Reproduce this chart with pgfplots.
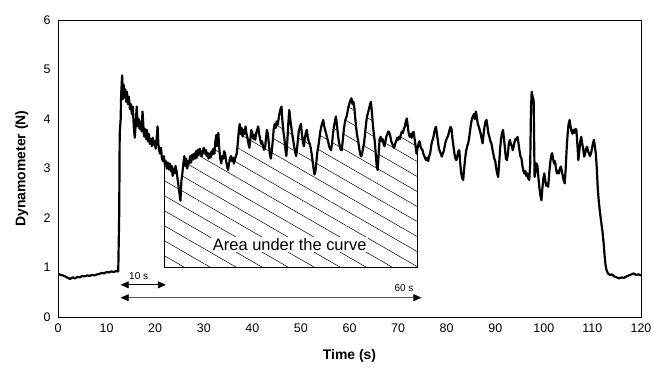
\documentclass[border=0pt]{standalone}
\usepackage{fontspec}
\setmainfont{Liberation Sans}
\usepackage{pgfplots}
\usepackage{pgfplotstable}
\pgfplotsset{compat=1.18}
\usepgfplotslibrary{fillbetween}
\usetikzlibrary{patterns.meta,arrows.meta}
\pgfplotstableread[row sep=\\]{t v\\
0 0.88\\ 0.5 0.85\\ 1 0.84\\ 1.5 0.82\\ 2 0.79\\ 2.5 0.77\\ 3 0.80\\ 3.5 0.78\\ 4 0.81\\ 4.5 0.80\\ 5 0.83\\ 5.5 0.82\\ 6 0.84\\ 6.5 0.83\\ 7 0.85\\ 7.5 0.84\\ 8 0.86\\ 8.5 0.87\\ 9 0.89\\ 9.5 0.88\\ 10 0.91\\ 10.5 0.90\\ 11 0.92\\ 11.5 0.91\\ 12 0.93\\ 12.4 0.92\\
12.5 1.5\\ 12.6 2.1\\ 12.7 3.7\\ 12.9 4.0\\ 13.0 4.5\\ 13.2 4.88\\ 13.35 4.4\\ 13.5 4.7\\ 13.7 4.45\\ 13.85 4.6\\ 14.0 4.35\\ 14.2 4.55\\ 14.4 4.3\\ 14.6 4.45\\ 14.8 4.2\\ 15.0 4.3\\ 15.2 4.1\\ 15.4 4.25\\ 15.6 3.85\\ 15.8 3.62\\ 16.0 3.9\\ 16.2 4.25\\ 16.4 3.85\\ 16.6 4.0\\ 16.8 3.8\\ 17.0 3.95\\ 17.2 3.75\\ 17.4 4.15\\ 17.55 3.9\\ 17.7 3.65\\ 17.9 3.8\\ 18.1 3.6\\ 18.3 3.78\\ 18.5 3.55\\ 18.7 3.7\\ 18.9 3.5\\ 19.1 3.6\\ 19.3 3.45\\ 19.5 3.62\\ 19.7 3.48\\ 19.9 3.55\\ 20.1 3.4\\ 20.3 3.6\\ 20.5 3.85\\ 20.65 3.5\\ 20.8 3.38\\ 21.0 3.3\\ 21.2 3.42\\ 21.4 3.2\\ 21.6 3.15\\ 21.8 3.25\\ 22.0 3.08\\ 22.2 3.15\\ 22.4 3.0\\ 22.6 3.12\\ 22.8 2.98\\ 23.0 3.1\\ 23.2 2.95\\ 23.4 3.05\\ 23.6 2.85\\ 23.8 3.0\\ 24.0 2.9\\ 24.2 3.05\\ 24.4 2.95\\ 24.6 2.8\\ 24.8 2.65\\ 25.0 2.5\\ 25.2 2.35\\ 25.4 2.75\\ 25.6 2.9\\ 25.8 3.1\\ 26.0 3.25\\ 26.2 3.05\\ 26.4 3.2\\ 26.6 3.0\\ 26.8 3.15\\ 27.0 3.1\\ 27.2 3.25\\ 27.4 3.12\\ 27.6 3.28\\ 27.8 3.18\\ 28.0 3.3\\ 28.2 3.2\\ 28.4 3.35\\ 28.6 3.22\\ 28.8 3.38\\ 29.0 3.28\\ 29.2 3.4\\ 29.4 3.3\\ 29.6 3.25\\ 29.8 3.35\\ 30.0 3.42\\ 30.2 3.3\\ 30.4 3.38\\ 30.6 3.25\\ 30.8 3.32\\ 31.0 3.2\\ 31.2 3.3\\ 31.4 3.22\\ 31.6 3.35\\ 31.8 3.28\\ 32.0 3.4\\ 32.2 3.3\\ 32.4 3.55\\ 32.6 3.68\\ 32.8 3.45\\ 33.0 3.72\\ 33.2 3.4\\ 33.4 3.2\\ 33.6 3.1\\ 33.8 3.25\\ 34.0 3.2\\ 34.2 3.35\\ 34.4 3.3\\ 34.6 3.15\\ 34.8 3.05\\ 35.0 2.97\\ 35.2 3.1\\ 35.4 3.2\\ 35.6 3.25\\ 35.8 3.15\\ 36.0 3.22\\ 36.2 3.1\\ 36.4 3.18\\ 36.6 3.25\\ 36.8 3.3\\ 37.0 3.5\\ 37.2 3.75\\ 37.4 3.9\\ 37.6 3.7\\ 37.8 3.82\\ 38.0 3.65\\ 38.2 3.78\\ 38.4 3.7\\ 38.6 3.85\\ 38.8 3.7\\ 39.0 3.62\\ 39.2 3.5\\ 39.4 3.42\\ 39.6 3.6\\ 39.8 3.78\\ 40.0 3.7\\ 40.2 3.6\\ 40.4 3.68\\ 40.6 3.58\\ 40.8 3.72\\ 41.0 3.78\\ 41.2 3.85\\ 41.4 3.7\\ 41.6 3.6\\ 41.8 3.5\\ 42.0 3.55\\ 42.2 3.45\\ 42.4 3.38\\ 42.6 3.4\\ 42.8 3.6\\ 43.0 3.78\\ 43.2 3.7\\ 43.4 3.5\\ 43.6 3.3\\ 43.8 3.2\\ 44.0 3.35\\ 44.2 3.55\\ 44.4 3.8\\ 44.6 3.9\\ 44.8 3.82\\ 45.0 3.95\\ 45.2 3.88\\ 45.4 4.0\\ 45.6 4.12\\ 45.8 4.2\\ 46.0 4.25\\ 46.2 3.95\\ 46.4 3.75\\ 46.6 3.6\\ 46.8 3.4\\ 47.0 3.25\\ 47.2 3.55\\ 47.4 3.9\\ 47.6 4.18\\ 47.8 4.0\\ 48.0 3.85\\ 48.2 3.7\\ 48.4 3.58\\ 48.6 3.45\\ 48.8 3.35\\ 49.0 3.25\\ 49.2 3.4\\ 49.4 3.6\\ 49.6 3.78\\ 49.8 3.84\\ 50.0 3.9\\ 50.2 3.7\\ 50.4 3.55\\ 50.6 3.45\\ 50.8 3.6\\ 51.0 3.72\\ 51.2 3.78\\ 51.4 3.65\\ 51.6 3.55\\ 51.8 3.5\\ 52.0 3.42\\ 52.2 3.3\\ 52.4 3.15\\ 52.6 3.0\\ 52.8 2.88\\ 53.0 2.95\\ 53.2 3.15\\ 53.4 3.35\\ 53.6 3.45\\ 53.8 3.6\\ 54.0 3.75\\ 54.2 3.85\\ 54.4 3.92\\ 54.6 3.98\\ 54.8 3.85\\ 55.0 3.78\\ 55.2 3.7\\ 55.4 3.62\\ 55.6 3.55\\ 55.8 3.45\\ 56.0 3.4\\ 56.2 3.37\\ 56.4 3.5\\ 56.6 3.7\\ 56.8 3.85\\ 57.0 3.95\\ 57.2 4.05\\ 57.4 3.9\\ 57.6 3.7\\ 57.8 3.55\\ 58.0 3.45\\ 58.2 3.38\\ 58.4 3.37\\ 58.6 3.55\\ 58.8 3.75\\ 59.0 3.9\\ 59.2 4.0\\ 59.4 4.05\\ 59.6 4.15\\ 59.8 4.25\\ 60.0 4.32\\ 60.2 4.38\\ 60.4 4.42\\ 60.6 4.3\\ 60.8 4.35\\ 61.0 4.22\\ 61.2 4.0\\ 61.4 3.8\\ 61.6 3.65\\ 61.8 3.55\\ 62.0 3.4\\ 62.2 3.3\\ 62.4 3.24\\ 62.6 3.3\\ 62.8 3.42\\ 63.0 3.51\\ 63.2 3.7\\ 63.4 3.9\\ 63.6 4.05\\ 63.8 4.12\\ 64.0 4.2\\ 64.2 4.28\\ 64.4 4.35\\ 64.6 4.15\\ 64.8 3.9\\ 65.0 3.7\\ 65.2 3.55\\ 65.4 3.3\\ 65.6 3.05\\ 65.8 2.97\\ 66.0 3.3\\ 66.2 3.6\\ 66.4 3.64\\ 66.6 3.55\\ 66.8 3.6\\ 67.0 3.5\\ 67.2 3.45\\ 67.4 3.55\\ 67.6 3.65\\ 67.8 3.7\\ 68.0 3.75\\ 68.2 3.72\\ 68.4 3.65\\ 68.6 3.55\\ 68.8 3.5\\ 69.0 3.45\\ 69.2 3.42\\ 69.4 3.5\\ 69.6 3.55\\ 69.8 3.62\\ 70.0 3.58\\ 70.2 3.64\\ 70.4 3.6\\ 70.6 3.7\\ 70.8 3.75\\ 71.0 3.72\\ 71.2 3.8\\ 71.4 3.85\\ 71.6 3.95\\ 71.8 4.01\\ 72.0 3.85\\ 72.2 3.7\\ 72.4 3.64\\ 72.6 3.7\\ 72.8 3.62\\ 73.0 3.72\\ 73.2 3.74\\ 73.4 3.6\\ 73.6 3.45\\ 73.8 3.3\\ 74.0 3.4\\ 74.2 3.5\\ 74.4 3.55\\ 74.6 3.45\\ 74.8 3.4\\ 75.0 3.38\\ 75.2 3.3\\ 75.4 3.25\\ 75.6 3.2\\ 75.8 3.17\\ 76.0 3.22\\ 76.2 3.15\\ 76.4 3.25\\ 76.6 3.3\\ 76.8 3.45\\ 77.0 3.55\\ 77.2 3.6\\ 77.4 3.7\\ 77.6 3.8\\ 77.8 3.84\\ 78.0 3.7\\ 78.2 3.55\\ 78.4 3.4\\ 78.6 3.35\\ 78.8 3.3\\ 79.0 3.24\\ 79.2 3.3\\ 79.4 3.35\\ 79.6 3.45\\ 79.8 3.55\\ 80.0 3.6\\ 80.2 3.64\\ 80.4 3.7\\ 80.6 3.78\\ 80.8 3.84\\ 81.0 3.8\\ 81.2 3.6\\ 81.4 3.45\\ 81.6 3.3\\ 81.8 3.2\\ 82.0 3.17\\ 82.2 3.25\\ 82.4 3.35\\ 82.6 3.37\\ 82.8 3.1\\ 83.0 2.9\\ 83.2 2.8\\ 83.4 2.77\\ 83.6 3.0\\ 83.8 3.2\\ 84.0 3.35\\ 84.2 3.44\\ 84.4 3.5\\ 84.6 3.6\\ 84.8 3.75\\ 85.0 3.9\\ 85.2 4.0\\ 85.4 4.05\\ 85.6 4.1\\ 85.8 4.0\\ 86.0 4.15\\ 86.2 4.05\\ 86.4 3.9\\ 86.6 3.85\\ 86.8 3.78\\ 87.0 3.7\\ 87.2 3.6\\ 87.4 3.51\\ 87.6 3.7\\ 87.8 3.85\\ 88.0 3.95\\ 88.2 3.98\\ 88.4 3.85\\ 88.6 3.7\\ 88.8 3.64\\ 89.0 3.55\\ 89.2 3.51\\ 89.4 3.4\\ 89.6 3.3\\ 89.8 3.2\\ 90.0 3.15\\ 90.2 3.0\\ 90.4 2.9\\ 90.6 2.83\\ 90.8 3.1\\ 91.0 3.4\\ 91.2 3.6\\ 91.4 3.72\\ 91.6 3.78\\ 91.8 3.6\\ 92.0 3.4\\ 92.2 3.2\\ 92.4 3.17\\ 92.6 3.3\\ 92.8 3.5\\ 93.0 3.58\\ 93.2 3.5\\ 93.4 3.45\\ 93.6 3.37\\ 93.8 3.45\\ 94.0 3.55\\ 94.2 3.6\\ 94.4 3.58\\ 94.6 3.64\\ 94.8 3.5\\ 95.0 3.35\\ 95.2 3.24\\ 95.4 3.2\\ 95.6 3.05\\ 95.8 2.95\\ 96.0 2.9\\ 96.2 2.95\\ 96.4 2.85\\ 96.6 2.9\\ 96.8 2.8\\ 97.0 2.77\\ 97.2 3.1\\ 97.35 4.2\\ 97.5 4.55\\ 97.7 4.45\\ 97.9 4.38\\ 98.0 3.6\\ 98.1 2.83\\ 98.3 2.95\\ 98.5 3.1\\ 98.7 3.04\\ 98.9 2.8\\ 99.1 2.6\\ 99.3 2.45\\ 99.5 2.36\\ 99.7 2.6\\ 99.9 2.8\\ 100.1 2.9\\ 100.3 2.75\\ 100.5 2.65\\ 100.7 2.7\\ 100.9 2.63\\ 101.1 2.9\\ 101.3 3.1\\ 101.5 3.25\\ 101.7 3.31\\ 101.9 3.2\\ 102.1 3.1\\ 102.3 3.15\\ 102.5 3.0\\ 102.7 2.9\\ 102.9 2.95\\ 103.1 2.9\\ 103.3 3.0\\ 103.5 3.04\\ 103.7 2.95\\ 103.9 2.85\\ 104.1 2.75\\ 104.3 2.7\\ 104.5 3.0\\ 104.7 3.4\\ 104.9 3.7\\ 105.1 3.9\\ 105.3 3.98\\ 105.5 3.85\\ 105.7 3.75\\ 105.9 3.7\\ 106.1 3.78\\ 106.3 3.72\\ 106.5 3.8\\ 106.7 3.78\\ 106.9 3.5\\ 107.1 3.17\\ 107.3 3.35\\ 107.5 3.55\\ 107.7 3.64\\ 107.9 3.5\\ 108.1 3.4\\ 108.3 3.24\\ 108.5 3.3\\ 108.7 3.4\\ 108.9 3.44\\ 109.1 3.35\\ 109.3 3.3\\ 109.5 3.25\\ 109.7 3.3\\ 109.9 3.4\\ 110.1 3.5\\ 110.3 3.58\\ 110.5 3.45\\ 110.7 3.3\\ 110.9 3.0\\ 111.1 2.6\\ 111.3 2.35\\ 111.5 2.16\\ 111.7 2.0\\ 111.9 1.85\\ 112.1 1.7\\ 112.3 1.5\\ 112.5 1.25\\ 112.7 1.05\\ 112.9 0.95\\ 113.2 0.88\\ 113.6 0.85\\ 114.0 0.86\\ 114.5 0.82\\ 115.0 0.80\\ 115.5 0.78\\ 116.0 0.80\\ 116.5 0.79\\ 117.0 0.82\\ 117.5 0.84\\ 118.0 0.86\\ 118.5 0.88\\ 119.0 0.85\\ 119.5 0.86\\ 120.0 0.84\\
}\data
\begin{document}
\begin{tikzpicture}
\begin{axis}[
  scale only axis, width=583bp, height=297bp,
  xmin=0, xmax=120, ymin=0, ymax=6,
  xtick={0,10,...,120}, ytick={0,1,...,6},
  major tick length=0pt,
  axis line style={black, line width=0.8pt},
  tick label style={font=\fontsize{12.5}{14}\selectfont},
  /pgf/number format/assume math mode=true,
  xlabel={Time (s)}, ylabel={Dynamometer (N)},
  label style={font=\fontsize{14}{16}\selectfont\bfseries},
  xlabel style={at={(axis description cs:0.5,-0.131)}, anchor=center},
  ylabel style={at={(axis description cs:-0.062,0.5)}, anchor=center},
  xticklabel style={yshift=-3bp},
  yticklabel style={xshift=-4bp},
]
\addplot[draw=none, name path=base, forget plot] coordinates {(22,1) (74,1)};
\addplot[draw=none, name path=curve, forget plot] table[x=t, y=v] {\data};
\addplot[pattern={Lines[angle=-30,distance=13bp,line width=0.5pt]}, pattern color=black, draw=none, forget plot] fill between[of=curve and base, soft clip={domain=22:74}];
\addplot[black, line width=0.8pt, forget plot] coordinates {(22,3.08) (22,1) (74,1) (74,3.4)};
\addplot[black, line width=2.2pt, line join=round] table[x=t, y=v] {\data};
\node[fill=white, inner sep=1.5pt, font=\fontsize{16.5}{18}\selectfont] at (axis cs:47.7,1.47) {Area under the curve};
\draw[{Triangle[length=8bp,width=7bp]}-{Triangle[length=8bp,width=7bp]}, line width=0.8pt] (axis cs:12.9,0.65) -- (axis cs:22.2,0.65);
\draw[{Triangle[length=8bp,width=7bp,color=black]}-{Triangle[length=8bp,width=7bp,color=black]}, black!65, line width=0.7pt] (axis cs:12.9,0.39) -- (axis cs:74.8,0.39);
\node[font=\fontsize{10}{12}\selectfont] at (axis cs:16.6,0.83) {10 s};
\node[font=\fontsize{10}{12}\selectfont] at (axis cs:71.2,0.59) {60 s};
\end{axis}
\pgfresetboundingbox
\path[use as bounding box] (current axis.south west) ++(-58bp,-54bp) rectangle ++(651bp,371bp);
\end{tikzpicture}
\end{document}
